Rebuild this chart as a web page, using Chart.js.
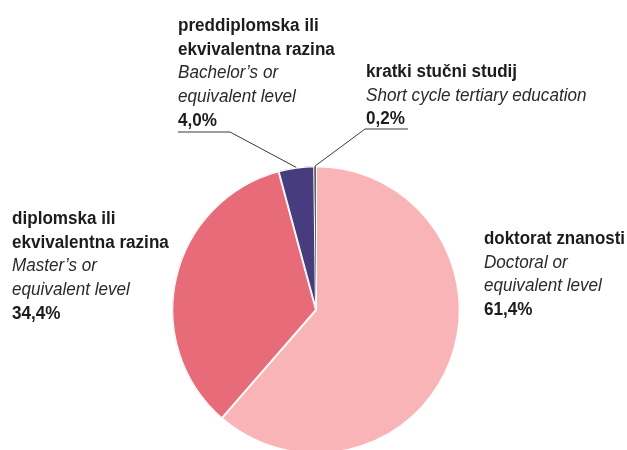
<!DOCTYPE html>
<html>
<head>
<meta charset="utf-8">
<script src="https://cdn.jsdelivr.net/npm/chart.js@4"></script>
<style>
  html, body { margin: 0; padding: 0; background: #fff; overflow: hidden; }
  #wrap { position: relative; width: 627px; height: 470px; }
</style>
</head>
<body>
<div id="wrap"><canvas id="chart"></canvas></div>
<script>
// Data: share of graduates by level, clockwise from 12 o'clock
const categories = ['doktorat znanosti', 'diplomska ili ekvivalentna razina', 'preddiplomska ili ekvivalentna razina', 'kratki stučni studij'];
const labelsHr = [['doktorat znanosti'], ['diplomska ili', 'ekvivalentna razina'], ['preddiplomska ili', 'ekvivalentna razina'], ['kratki stučni studij']];
const labelsEn = [['Doctoral or', 'equivalent level'], ['Master’s or', 'equivalent level'], ['Bachelor’s or', 'equivalent level'], ['Short cycle tertiary education']];
const shares = [61.4, 34.4, 4.0, 0.2];

const COLORS = ['#f8b4b6', '#e76b78', '#473d7e', '#5f5f5f'];
const FONT = '"Liberation Sans", Arial, sans-serif';
const FONT_SIZE = 18;
const SQUEEZE = 0.95; // narrow the face to look like a condensed grotesque
const LINE_H = 23.7;

// label block placement: left x, first baseline y, optional leader elbow + end
const LABEL_POS = [
  { x: 484, y: 244 },
  { x: 12, y: 224 },
  { x: 178, y: 31, elbow: [230, 132], end: [178, 132] },
  { x: 366, y: 77, elbow: [365, 129], end: [408, 129] },
];

const fmt = (v) => v.toFixed(1).replace('.', ',') + '%';

function squeezedText(ctx, text, x, y, maxW) {
  ctx.save();
  ctx.scale(SQUEEZE, 1);
  ctx.fillText(text, x / SQUEEZE, y, maxW / SQUEEZE);
  ctx.restore();
}

const labelPlugin = {
  id: 'calloutLabels',
  afterDraw(chart) {
    const { ctx } = chart;
    const arcs = chart.getDatasetMeta(0).data;
    ctx.save();
    ctx.textBaseline = 'alphabetic';
    ctx.textAlign = 'left';
    shares.forEach((v, i) => {
      const p = LABEL_POS[i];
      const maxW = chart.width - p.x - 2;
      let y = p.y;
      ctx.fillStyle = '#1d1b1c';
      ctx.font = `bold ${FONT_SIZE}px ${FONT}`;
      labelsHr[i].forEach((t) => { squeezedText(ctx, t, p.x, y, maxW); y += LINE_H; });
      ctx.font = `italic ${FONT_SIZE}px ${FONT}`;
      ctx.fillStyle = '#2b2a2a';
      labelsEn[i].forEach((t) => { squeezedText(ctx, t, p.x, y, maxW); y += LINE_H; });
      ctx.font = `bold ${FONT_SIZE}px ${FONT}`;
      ctx.fillStyle = '#1d1b1c';
      squeezedText(ctx, fmt(v), p.x, y, maxW);

      if (p.elbow) {
        const a = arcs[i];
        const mid = (a.startAngle + a.endAngle) / 2;
        const sx = a.x + Math.cos(mid) * a.outerRadius;
        const sy = a.y + Math.sin(mid) * a.outerRadius;
        ctx.strokeStyle = '#3a3a3a';
        ctx.lineWidth = 1;
        ctx.beginPath();
        ctx.moveTo(sx, sy);
        ctx.lineTo(p.elbow[0], p.elbow[1]);
        ctx.lineTo(p.end[0], p.end[1]);
        ctx.stroke();
      }
    });
    ctx.restore();
  },
};

new Chart(document.getElementById('chart'), {
  type: 'pie',
  data: {
    labels: categories,
    datasets: [{
      data: shares,
      backgroundColor: COLORS,
      borderColor: '#ffffff',
      borderWidth: [1, 1, 1, 0],
      borderAlign: 'inner',
    }],
  },
  options: {
    responsive: true,
    maintainAspectRatio: false,
    animation: false,
    layout: { padding: { left: 172, right: 167, top: 166, bottom: 16 } },
    plugins: {
      legend: { display: false },
      tooltip: { enabled: false },
    },
  },
  plugins: [labelPlugin],
});
</script>
</body>
</html>
